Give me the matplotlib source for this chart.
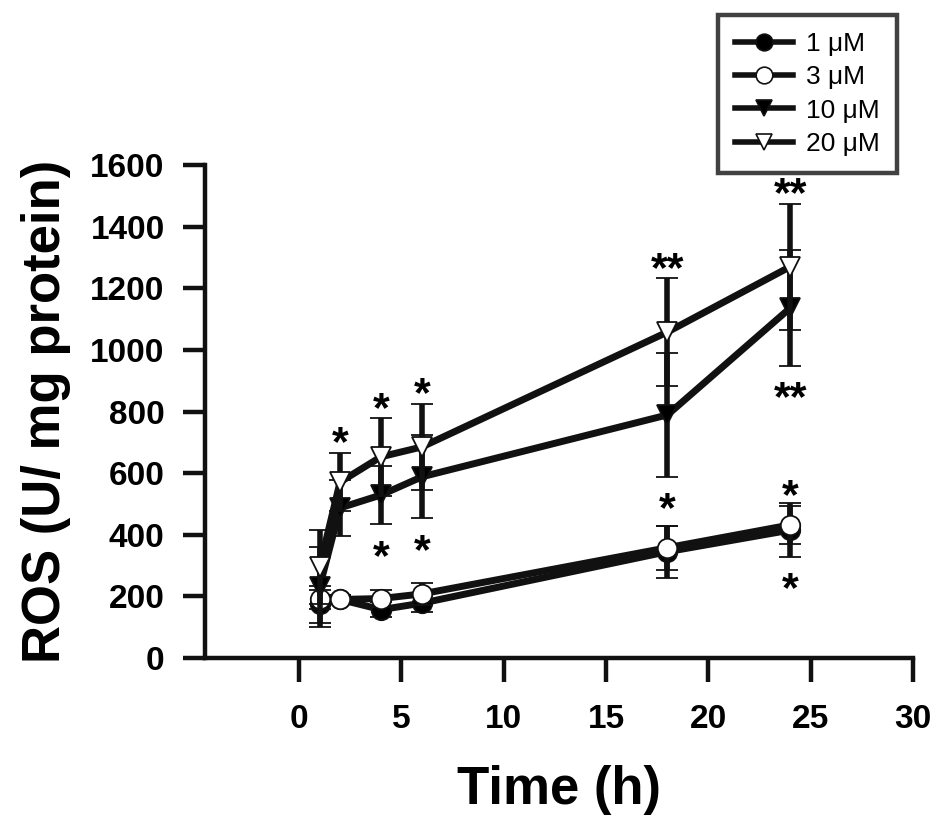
import matplotlib
matplotlib.use('Agg')
import matplotlib.pyplot as plt
from matplotlib.lines import Line2D
import numpy as np

plt.rcParams['font.family'] = ['Liberation Sans', 'DejaVu Sans']

# time points (h)
time = [1, 2, 4, 6, 18, 24]

# ROS means and error bars for each dose
ros_1 = [175, 190, 157, 178, 345, 415]
err_1 = [60, 15, 25, 28, 85, 87]
ros_3 = [190, 190, 193, 208, 358, 432]
err_3 = [30, 15, 28, 35, 72, 62]
ros_10 = [230, 487, 529, 588, 789, 1136]
err_10 = [130, 90, 95, 135, 200, 187]
ros_20 = [295, 571, 653, 685, 1058, 1270]
err_20 = [120, 95, 126, 140, 175, 205]

# significance marks (above the upper bar or below the lower bar)
sig_1 = ['', '', '', '', '', '*']
sig_3 = ['', '', '', '', '', '*']
sig_10 = ['', '', '*', '*', '*', '**']
sig_20 = ['', '*', '*', '*', '**', '**']

labels = ['1 \u03bcM', '3 \u03bcM', '10 \u03bcM', '20 \u03bcM']

fig = plt.figure(figsize=(9.45, 8.34), dpi=100)
ax = fig.add_axes([205/945, 176/834, (913-205)/945, (658-165)/834])

series = [
    (ros_1, err_1, sig_1, 'below', 'o', 'black'),
    (ros_3, err_3, sig_3, 'above', 'o', 'white'),
    (ros_10, err_10, sig_10, 'below', 'v', 'black'),
    (ros_20, err_20, sig_20, 'above', 'v', 'white'),
]

handles = []
for i, (y, e, sig, side, mk, fc) in enumerate(series):
    ax.errorbar(time, y, yerr=e, color='#111111', lw=5, marker=mk,
                markersize=14, markerfacecolor=fc, markeredgecolor='#111111',
                markeredgewidth=1.3, elinewidth=4, capsize=8, capthick=4.6,
                zorder=3 + i)
    handles.append(Line2D([], [], color='#111111', lw=4, marker=mk,
                          markersize=12, markerfacecolor=fc,
                          markeredgecolor='#111111', markeredgewidth=1.2))
    for t, v, err, s in zip(time, y, e, sig):
        if not s:
            continue
        if side == 'above':
            ax.annotate(s, (t, v + err), xytext=(0, -2), textcoords='offset points',
                        ha='center', va='baseline', fontsize=31, fontweight='bold',
                        zorder=10)
        else:
            ax.annotate(s, (t, v - err), xytext=(0, -32), textcoords='offset points',
                        ha='center', va='baseline', fontsize=31, fontweight='bold',
                        zorder=10)

ax.set_xlim(-4.6, 30)
ax.set_ylim(0, 1600)
ax.set_xticks([0, 5, 10, 15, 20, 25, 30])
ax.set_yticks(np.arange(0, 1601, 200))

for s in ['top', 'right']:
    ax.spines[s].set_visible(False)
for s in ['left', 'bottom']:
    ax.spines[s].set_linewidth(3.2)
    ax.spines[s].set_color('#111111')

ax.tick_params(axis='x', direction='out', length=17, width=3.2, labelsize=24, pad=16,
               color='#111111')
ax.tick_params(axis='y', direction='out', length=16, width=3.2, labelsize=24, pad=13,
               color='#111111')
for lab in ax.get_xticklabels() + ax.get_yticklabels():
    lab.set_fontweight('bold')

ax.set_xlabel('Time (h)', fontsize=38, fontweight='bold', labelpad=22)
ax.set_ylabel('ROS (U/ mg protein)', fontsize=38, fontweight='bold', labelpad=14)

leg = fig.legend(handles=handles, labels=labels, loc='upper right',
                 bbox_to_anchor=(897/945, 1 - 15/834), borderaxespad=0,
                 fontsize=19, frameon=True, fancybox=False, edgecolor='#111111',
                 handlelength=2.2, handletextpad=0.5, labelspacing=0.35,
                 borderpad=0.65, numpoints=1)
leg.get_frame().set_linewidth(3.2)

fig.savefig('out.png', dpi=100)
